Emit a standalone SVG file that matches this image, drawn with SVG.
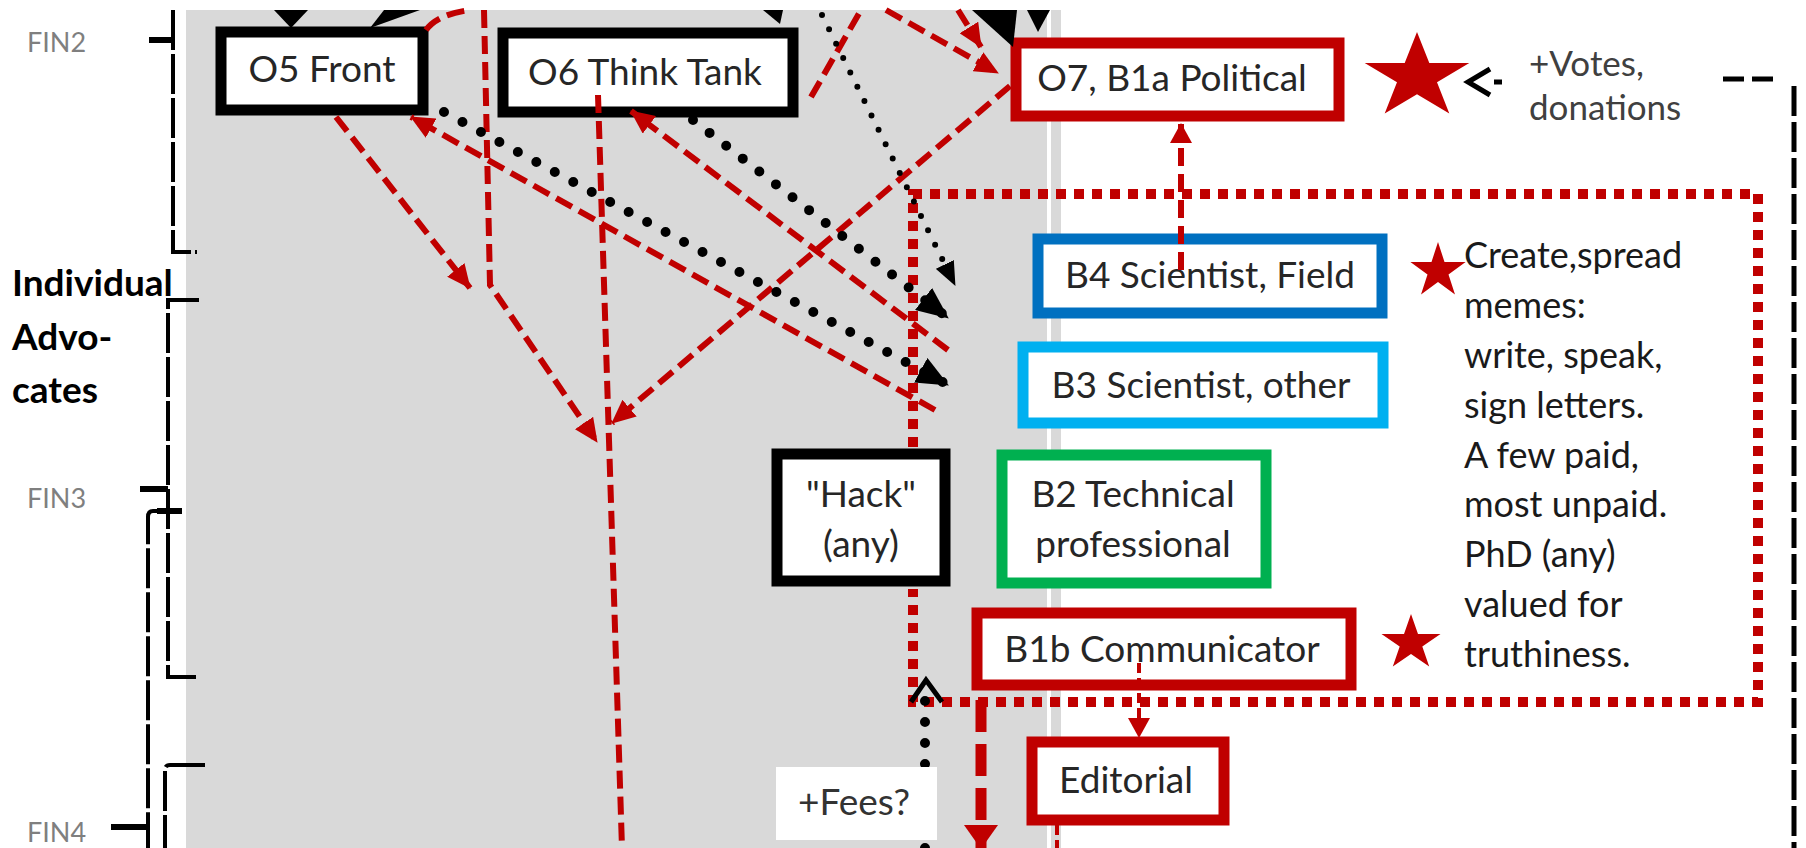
<svg xmlns="http://www.w3.org/2000/svg" width="1806" height="848" viewBox="0 0 1806 848">
<style>
.t{font-family:Lato,"Liberation Sans",sans-serif;font-size:37px;fill:#262626;text-anchor:middle}
.tl{font-family:Lato,"Liberation Sans",sans-serif;font-size:36px;fill:#1a1a1a}
.fin{font-family:Lato,"Liberation Sans",sans-serif;font-size:27px;fill:#7f7f7f}
.bold{font-family:Lato,"Liberation Sans",sans-serif;font-size:37px;font-weight:bold;fill:#000}
.box{fill:#fff;stroke-width:11}
.rd{fill:none;stroke:#C00000;stroke-width:6;stroke-dasharray:18 8}
.rdot{fill:none;stroke:#C00000;stroke-width:10;stroke-dasharray:10 8}
.rthin{fill:none;stroke:#C00000;stroke-width:4;stroke-dasharray:10 5}
.kdot{fill:none;stroke:#000;stroke-width:10;stroke-linecap:round;stroke-dasharray:0 21}
.kdots{fill:none;stroke:#000;stroke-width:6;stroke-linecap:round;stroke-dasharray:0 16}
.br{fill:none;stroke:#000;stroke-width:4;stroke-dasharray:40 4}
.tick{fill:none;stroke:#000;stroke-width:6}
.star{fill:#C00000}
</style>
<defs>
<marker id="ar" markerUnits="userSpaceOnUse" viewBox="0 0 24 22" markerWidth="24" markerHeight="22" refX="23" refY="11" orient="auto"><path d="M0,0 L24,11 L0,22 z" fill="#C00000"/></marker>
<marker id="ars" markerUnits="userSpaceOnUse" viewBox="0 0 20 22" markerWidth="20" markerHeight="22" refX="19" refY="11" orient="auto"><path d="M0,0 L20,11 L0,22 z" fill="#C00000"/></marker>
<marker id="arb" markerUnits="userSpaceOnUse" viewBox="0 0 24 34" markerWidth="24" markerHeight="34" refX="23" refY="17" orient="auto"><path d="M0,0 L24,17 L0,34 z" fill="#C00000"/></marker>
<marker id="akb" markerUnits="userSpaceOnUse" viewBox="0 0 32 28" markerWidth="32" markerHeight="28" refX="31" refY="14" orient="auto"><path d="M0,0 L32,14 L0,28 z" fill="#000"/></marker>
<marker id="aks" markerUnits="userSpaceOnUse" viewBox="0 0 24 20" markerWidth="24" markerHeight="20" refX="23" refY="10" orient="auto"><path d="M0,0 L24,10 L0,20 z" fill="#000"/></marker>
</defs>
<rect x="0" y="0" width="1806" height="848" fill="#fff"/>
<rect x="186" y="10" width="875" height="838" fill="#D9D9D9"/>
<rect x="1047" y="10" width="4" height="838" fill="#fff"/>

<g id="side-labels">
<text x="27" y="52" class="fin">FIN2</text>
<text x="27" y="508" class="fin">FIN3</text>
<text x="27" y="842" class="fin">FIN4</text>
<text x="12" y="296" class="bold">Individual</text>
<text x="12" y="350" class="bold">Advo-</text>
<text x="12" y="403" class="bold">cates</text>
</g>

<g id="brackets">
<path class="br" d="M173 10 V252 H197"/>
<path class="tick" d="M149 40 H173"/>
<path class="br" d="M199 300 H168 V489"/>
<path class="tick" d="M140 489 H168"/>
<path class="br" d="M168 489 V677 H199"/>
<path class="br" d="M157 511 H153 Q148 511 148 517 V848"/>
<path class="tick" d="M157 511 H182"/>
<path class="tick" d="M111 827 H148"/>
<path class="br" d="M205 765 H170 Q165 765 165 770 V848"/>
</g>

<g id="O5"><rect class="box" x="221" y="32" width="202" height="78" stroke="#000"/><text class="t" x="322" y="82">O5 Front</text></g>
<g id="O6"><rect class="box" x="503" y="33" width="290" height="79" stroke="#000"/><text class="t" x="645" y="85">O6 Think Tank</text></g>
<g id="O7"><rect class="box" x="1016" y="43" width="323" height="73" stroke="#C00000"/><text class="t" x="1172" y="91">O7, B1a Political</text></g>
<g id="B4"><rect class="box" x="1038" y="239" width="344" height="74" stroke="#0070C0"/><text class="t" x="1210" y="288">B4 Scientist, Field</text></g>
<g id="B3"><rect class="box" x="1023" y="347" width="360" height="76" stroke="#00B0F0"/><text class="t" x="1201" y="398">B3 Scientist, other</text></g>
<g id="Hack"><rect class="box" x="777" y="454" width="168" height="127" stroke="#000"/><text class="t" x="861" y="507">"Hack"</text><text class="t" x="861" y="557">(any)</text></g>
<g id="B2"><rect class="box" x="1002" y="455" width="264" height="128" stroke="#00B050"/><text class="t" x="1133" y="507">B2 Technical</text><text class="t" x="1133" y="557">professional</text></g>
<g id="B1b"><rect class="box" x="977" y="613" width="374" height="72" stroke="#C00000"/><text class="t" x="1162" y="662">B1b Communicator</text></g>
<g id="Editorial"><rect class="box" x="1032" y="742" width="192" height="78" stroke="#C00000"/><text class="t" x="1126" y="793">Editorial</text></g>

<g id="stars">
<polygon class="star" points="1417,32 1429.3,63.1 1469.3,63.1 1437,82.3 1449.3,113.4 1417,94.2 1384.7,113.4 1397,82.3 1364.7,63.1 1404.7,63.1"/>
<polygon class="star" points="1438,242 1444.5,262 1465.6,262 1448.5,274.4 1455,294.5 1438,282.1 1421,294.5 1427.5,274.4 1410.4,262 1431.5,262"/>
<polygon class="star" points="1411,614 1418,634 1440.5,634 1422.3,646.4 1429.2,666.5 1411,654.1 1392.8,666.5 1399.7,646.4 1381.5,634 1404,634"/>
</g>

<g id="notes">
<text class="tl" x="1529" y="76" style="font-size:35px;fill:#404040">+Votes,</text>
<text class="tl" x="1529" y="120" style="font-size:35px;fill:#404040">donations</text>
<text class="tl" x="1464" y="268">Create,spread</text>
<text class="tl" x="1464" y="318">memes:</text>
<text class="tl" x="1464" y="368">write, speak,</text>
<text class="tl" x="1464" y="418">sign letters.</text>
<text class="tl" x="1464" y="468">A few paid,</text>
<text class="tl" x="1464" y="517">most unpaid.</text>
<text class="tl" x="1464" y="567">PhD (any)</text>
<text class="tl" x="1464" y="617">valued for</text>
<text class="tl" x="1464" y="667">truthiness.</text>
</g>

<g id="connectors">
<path class="rdot" d="M913 447 V194 H1758 V702 H913 V589"/>
<path class="rd" d="M484 10 L490 285 L597 442" marker-end="url(#ar)"/>
<path class="rd" d="M336 117 L470 288" marker-end="url(#ar)"/>
<path class="rd" d="M598 95 L622 848"/>
<path class="rd" d="M1010 86 L612 423" marker-end="url(#ar)"/>
<path class="rd" d="M948 350 L631 111" marker-end="url(#ar)"/>
<path class="rd" d="M935 410 L411 117" marker-end="url(#ar)"/>
<path class="rd" d="M811 97 L861 10"/>
<path class="rd" d="M886 10 L998 73" marker-end="url(#ar)"/>
<path class="rd" d="M958 10 L981 47" marker-end="url(#ar)"/>
<path class="rd" d="M426 30 Q438 14 470 10"/>
<path class="rd" d="M1181 270 L1181 124" marker-end="url(#ars)"/>
<path class="rthin" d="M1139 663 L1139 737" marker-end="url(#ars)"/>
<path fill="none" stroke="#C00000" stroke-width="11" stroke-dasharray="32 12" d="M981 700 L981 848" marker-end="url(#arb)"/>
<path class="rthin" d="M1057 825 L1057 848"/>
<polygon points="274,10 308,10 291,28" fill="#000"/>
<polygon points="370,28 384,10 420,10" fill="#000"/>
<polygon points="763,10 783,10 780,24" fill="#000"/>
<polygon points="972,10 1017,10 1013,47" fill="#000"/>
<polygon points="1027,10 1050,10 1038,32" fill="#000"/>
<path class="kdots" d="M822 15 L955 285" marker-end="url(#aks)"/>
<path class="kdot" d="M693 120 L948 318" marker-end="url(#akb)"/>
<path class="kdot" d="M444 112 L948 385" marker-end="url(#akb)"/>
<path class="kdot" d="M925 848 V700"/>
<path fill="none" stroke="#000" stroke-width="5" d="M911 702 L926 680 L942 702"/>
<path fill="none" stroke="#000" stroke-width="5" d="M1490 69 L1468 82 L1490 95 M1494 82 H1502"/>
<path fill="none" stroke="#000" stroke-width="5" stroke-dasharray="21 8" d="M1723 79 H1776"/>
<path fill="none" stroke="#000" stroke-width="5" stroke-dasharray="30 6" d="M1794 86 V848"/>
</g>

<g id="Fees"><rect x="776" y="767" width="161" height="73" fill="#fff"/><text class="t" x="854" y="815" style="fill:#333">+Fees?</text></g>
</svg>
